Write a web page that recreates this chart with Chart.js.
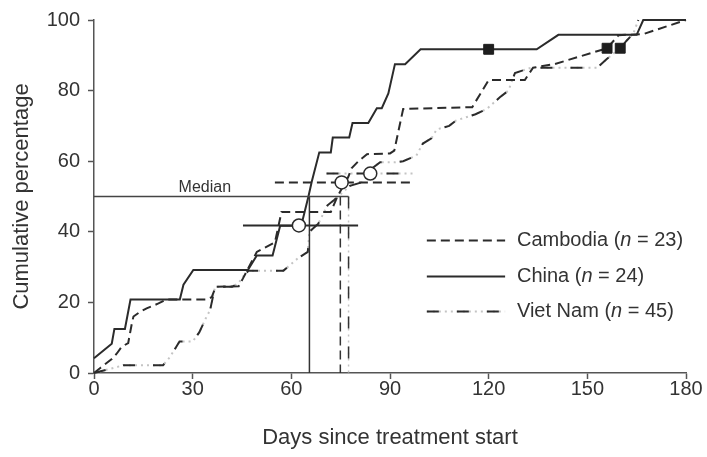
<!DOCTYPE html>
<html>
<head>
<meta charset="utf-8">
<script src="https://cdn.jsdelivr.net/npm/chart.js@4.4.1/dist/chart.umd.min.js"></script>
<style>
  html, body { margin: 0; padding: 0; background: #fff; }
  canvas { display: block; }
</style>
</head>
<body>
<canvas id="kmChart" width="707" height="457"></canvas>
<script>
// Cumulative percentage curves (day, %)
const chinaDays = [0, 5.4, 6.2, 9.4, 11.1, 26.1, 27.2, 30.2, 46.8, 49.5, 54.3, 56.6, 63, 65.2, 66.2, 68.5, 72, 72.6, 77.6, 78.6, 83.4, 86, 87.5, 89.5, 91.5, 94.6, 99.3, 134.6, 141.2, 165, 167, 180];
const chinaPct = [4.2, 8.3, 12.5, 12.5, 20.8, 20.8, 25, 29.2, 29.2, 33.3, 33.3, 41.7, 41.7, 50, 54.2, 62.5, 62.5, 66.7, 66.7, 70.8, 70.8, 75, 75, 79.2, 87.5, 87.5, 91.7, 91.7, 95.8, 95.8, 100, 100];

const cambodiaDays = [0, 2, 5.5, 7, 8.4, 10.4, 11.5, 12, 14, 16, 19.6, 22, 34.3, 35.8, 37, 44, 45.3, 49.5, 55, 57, 72, 74, 77.3, 78.3, 80.4, 83, 90, 91.3, 94, 115, 120, 131, 133.5, 140, 156, 159.5, 167, 180];
const cambodiaPct = [0, 1.5, 4, 5.6, 7.4, 8.5, 14, 16, 17.3, 18.3, 19.7, 20.8, 20.8, 21.5, 24.4, 24.6, 26.8, 34.3, 37, 45.6, 45.6, 50, 55.5, 58, 60, 62, 62.2, 63, 74.8, 75.3, 83, 83, 86.5, 87.5, 92, 95.7, 96, 100];

const vietDays = [0, 9, 21, 23, 26, 30, 32, 34, 35.3, 36.8, 42, 44, 45, 47, 57.6, 62, 65, 65.5, 67, 68.2, 71, 73, 77.8, 81.4, 85, 87, 91.5, 94, 98, 100, 102.6, 104.2, 108, 110, 116, 119.4, 123.4, 126, 128, 133, 153, 156, 160, 162, 164, 165.5];
const vietPct = [0, 2.2, 2.2, 4.4, 8.9, 8.9, 11.5, 15.5, 17.8, 24.4, 24.4, 25.5, 27, 29, 29, 32.5, 34.3, 40, 41.3, 42.3, 47.5, 49, 53, 54, 58.3, 59.7, 59.7, 60, 61.6, 65, 66.5, 69, 70, 71.5, 73.3, 74.8, 78.1, 80, 85, 86.5, 86.5, 89, 92, 94.2, 96.2, 100];

// censored observations (filled squares)
const censorDays = [120, 156, 160];
const censorPct = [91.7, 92, 92];

// medians and their intervals: China, Cambodia, Viet Nam
const medianDays = [65.5, 74.9, 77.4];
const medianLevel = 50;
const ciLow = [45.3, 55, 70.7];
const ciHigh = [80.3, 97, 97.6];
const ciMark = [62.3, 75.3, 84];
const ciLevel = [41.8, 54, 56.5];

const xTicks = [0, 30, 60, 90, 120, 150, 180];
const yTicks = [0, 20, 40, 60, 80, 100];

const INK = '#2b2b2b';
const DOTS = '#c4c4c4';
const FONT = '"Liberation Sans", Arial, Helvetica, sans-serif';

const pts = (xs, ys) => xs.map((x, i) => ({ x: x, y: ys[i] }));

const line = (data, color, dash, width, order) => ({
    type: 'line',
    data: data,
    borderColor: color,
    borderWidth: width,
    borderDash: dash,
    pointRadius: 0,
    fill: false,
    tension: 0,
    clip: 6,
    order: order
});

const styles = [
    { dash: [], dotted: false },          // China
    { dash: [9, 5], dotted: false },      // Cambodia
    { dash: [12, 18], dotted: true }      // Viet Nam
];

const datasets = [];

// survival-type curves
datasets.push(line(pts(chinaDays, chinaPct), INK, [], 2, 5));
datasets.push(line(pts(cambodiaDays, cambodiaPct), INK, [9, 5], 2, 5));
datasets.push(line(pts(vietDays, vietPct), INK, [12, 18], 2, 5));
datasets.push(line(pts(vietDays, vietPct), DOTS, [2, 4], 2, 6));

// median reference line and drops to the axis
datasets.push(line([{ x: 0, y: medianLevel }, { x: Math.max(...medianDays), y: medianLevel }], '#444', [], 1.5, 4));
medianDays.forEach((d, i) => {
    const data = [{ x: d, y: medianLevel }, { x: d, y: 0 }];
    datasets.push(line(data, '#333', styles[i].dash, 1.5, 4));
    if (styles[i].dotted) datasets.push(line(data, DOTS, [2, 4], 1.5, 6));
});

// interval lines with open circles
ciLevel.forEach((lvl, i) => {
    const data = [{ x: ciLow[i], y: lvl }, { x: ciHigh[i], y: lvl }];
    datasets.push(line(data, INK, styles[i].dash, 2, 3));
    if (styles[i].dotted) datasets.push(line(data, DOTS, [2, 4], 2, 6));
});

datasets.push({
    type: 'scatter',
    data: pts(ciMark, ciLevel),
    pointRadius: 6.5,
    pointBackgroundColor: '#fff',
    pointBorderColor: INK,
    pointBorderWidth: 1.5,
    clip: false,
    order: 1
});

datasets.push({
    type: 'scatter',
    data: pts(censorDays, censorPct),
    pointStyle: 'rect',
    pointRadius: 7,
    pointBackgroundColor: '#1e1e1e',
    pointBorderColor: '#1e1e1e',
    pointBorderWidth: 1,
    clip: false,
    order: 0
});

// legend and the "Median" label
const overlay = {
    id: 'overlay',
    afterDatasetsDraw(chart) {
        const { ctx, scales: { x, y } } = chart;
        ctx.save();

        ctx.fillStyle = '#333';
        ctx.font = '16px ' + FONT;
        ctx.textAlign = 'center';
        ctx.textBaseline = 'bottom';
        ctx.fillText('Median', x.getPixelForValue(33.7), y.getPixelForValue(medianLevel) - 1);

        const rows = [
            { name: 'Cambodia', n: '23', s: styles[1] },
            { name: 'China', n: '24', s: styles[0] },
            { name: 'Viet Nam', n: '45', s: styles[2] }
        ];
        const x0 = x.getPixelForValue(101.2);
        const x1 = x.getPixelForValue(125);
        const tx = x.getPixelForValue(128.6);
        const rowY = [37.6, 27.4, 17.5];

        rows.forEach((r, i) => {
            const yy = Math.round(y.getPixelForValue(rowY[i])) + 0.5;
            ctx.lineWidth = 2;
            if (r.s.dotted) {
                ctx.strokeStyle = DOTS;
                ctx.setLineDash([2, 4]);
                ctx.beginPath(); ctx.moveTo(x0, yy); ctx.lineTo(x1, yy); ctx.stroke();
            }
            ctx.strokeStyle = INK;
            ctx.setLineDash(r.s.dash);
            ctx.beginPath(); ctx.moveTo(x0, yy); ctx.lineTo(x1, yy); ctx.stroke();
            ctx.setLineDash([]);

            ctx.textAlign = 'left';
            ctx.textBaseline = 'middle';
            ctx.fillStyle = '#333';
            let cx = tx;
            const parts = [
                [r.name + ' (', '20px ' + FONT],
                ['n', 'italic 20px ' + FONT],
                [' = ' + r.n + ')', '20px ' + FONT]
            ];
            parts.forEach(p => {
                ctx.font = p[1];
                ctx.fillText(p[0], cx, yy);
                cx += ctx.measureText(p[0]).width;
            });
        });
        ctx.restore();
    }
};

const axisColor = '#555';

new Chart(document.getElementById('kmChart'), {
    type: 'line',
    data: { datasets: datasets },
    options: {
        responsive: false,
        devicePixelRatio: 1,
        animation: false,
        layout: { padding: { top: 19, right: 21, left: 0, bottom: 0 } },
        plugins: {
            legend: { display: false },
            tooltip: { enabled: false }
        },
        scales: {
            x: {
                type: 'linear',
                min: 0,
                max: 180,
                afterBuildTicks: s => { s.ticks = xTicks.map(v => ({ value: v })); },
                afterFit: s => { s.height = 84; },
                grid: { drawOnChartArea: false, tickLength: 6, tickColor: axisColor, tickWidth: 1.5 },
                border: { color: axisColor, width: 1.5 },
                ticks: { color: '#333', font: { size: 20, family: FONT }, padding: -2, maxRotation: 0 },
                title: {
                    display: true,
                    text: 'Days since treatment start',
                    color: '#333',
                    font: { size: 22, family: FONT },
                    padding: { top: 0, bottom: 6 }
                }
            },
            y: {
                type: 'linear',
                min: 0,
                max: 100,
                afterBuildTicks: s => { s.ticks = yTicks.map(v => ({ value: v })); },
                afterFit: s => { s.width = 94; },
                grid: { drawOnChartArea: false, tickLength: 6, tickColor: axisColor, tickWidth: 1.5 },
                border: { color: axisColor, width: 1.5 },
                ticks: { color: '#333', font: { size: 20, family: FONT }, padding: 8 },
                title: {
                    display: true,
                    text: 'Cumulative percentage',
                    color: '#333',
                    font: { size: 22, family: FONT },
                    padding: { top: 9, bottom: 0 }
                }
            }
        }
    },
    plugins: [overlay]
});
</script>
</body>
</html>
